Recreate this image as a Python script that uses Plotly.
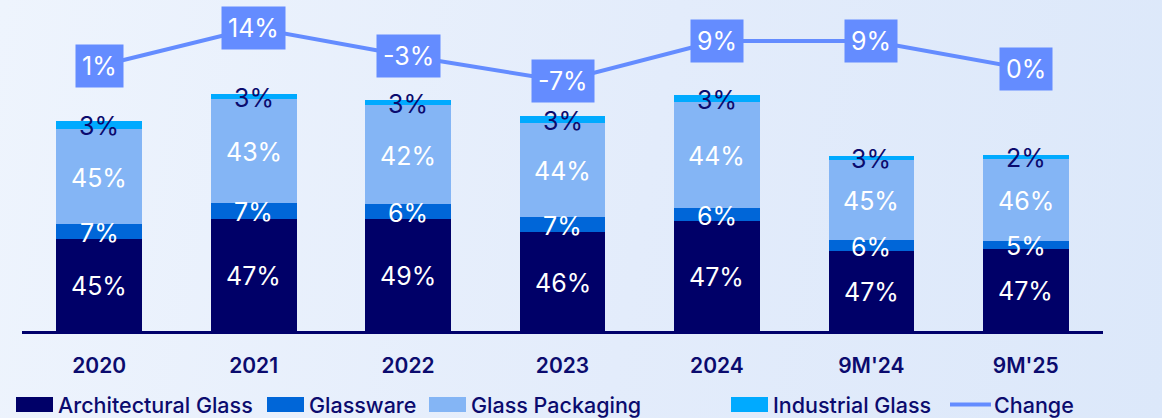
import numpy as np
import plotly.graph_objects as go

# ---- data (index units) ----
periods = ["2020", "2021", "2022", "2023", "2024", "9M'24", "9M'25"]
architectural = [92, 112, 112, 99, 110, 80, 82]
glassware = [15, 16, 15, 15, 13, 11, 8]
packaging = [95, 104, 99, 94, 106, 80, 82]
industrial = [8, 5, 5, 7, 7, 4, 4]

architectural_pct = ["45%", "47%", "49%", "46%", "47%", "47%", "47%"]
glassware_pct = ["7%", "7%", "6%", "7%", "6%", "6%", "5%"]
packaging_pct = ["45%", "43%", "42%", "44%", "44%", "45%", "46%"]
industrial_pct = ["3%", "3%", "3%", "3%", "3%", "3%", "2%"]

change_line = [265, 303, 275, 250, 290, 290, 262]
change_labels = ["1%", "14%", "-3%", "-7%", "9%", "9%", "0%"]

# ---- style ----
NAVY = "#00006B"
TEXT = "#0B0B6E"
C_ARCH = "#000068"
C_GLASS = "#0066D8"
C_PACK = "#84B5F5"
C_IND = "#00AAFF"
C_LINE = "#648CFF"
FONT = "Inter"
LBL = 25

W, H = 1162, 418
L, R, T, B = 22, 59, 10, 87
pw, ph = W - L - R, H - T - B

fig = go.Figure()

series = [
    ("Architectural Glass", architectural, architectural_pct, C_ARCH, "white"),
    ("Glassware", glassware, glassware_pct, C_GLASS, "white"),
    ("Glass Packaging", packaging, packaging_pct, C_PACK, "white"),
    ("Industrial Glass", industrial, industrial_pct, C_IND, TEXT),
]

for name, vals, txt, color, tcolor in series:
    fig.add_trace(go.Bar(
        x=periods, y=vals, name=name,
        marker=dict(color=color, line=dict(width=0)),
        showlegend=False, hoverinfo="skip",
    ))

fig.add_trace(go.Scatter(
    x=periods, y=change_line, mode="lines", name="Change",
    line=dict(color=C_LINE, width=4), showlegend=False, hoverinfo="skip",
    cliponaxis=False,
))

# segment labels drawn above all bars, centred on each segment
base = np.zeros(len(periods))
for name, vals, txt, color, tcolor in series:
    v = np.array(vals, dtype=float)
    for i, (yc, t) in enumerate(zip(base + v / 2, txt)):
        fig.add_annotation(x=i, y=yc, text=t, showarrow=False, yshift=-1,
                           font=dict(family=FONT, size=LBL, color=tcolor))
    base = base + v

for i, (v, t) in enumerate(zip(change_line, change_labels)):
    fig.add_annotation(x=i, y=v, text=t, showarrow=False,
                       font=dict(family=FONT, size=LBL, color="white"),
                       bgcolor=C_LINE, borderpad=6)

# ---- manual legend (paper coordinates from pixel positions) ----
def px(x):
    return (x - L) / pw

def py(y):
    return (H - B - y) / ph

legend_items = [
    ("Architectural Glass", C_ARCH, 16, "rect"),
    ("Glassware", C_GLASS, 267, "rect"),
    ("Glass Packaging", C_PACK, 429, "rect"),
    ("Industrial Glass", C_IND, 731, "rect"),
    ("Change", C_LINE, 949, "line"),
]
ly = 404.5
for name, color, x0, kind in legend_items:
    if kind == "rect":
        fig.add_shape(type="rect", xref="paper", yref="paper",
                      x0=px(x0), x1=px(x0 + 37), y0=py(ly + 7.5), y1=py(ly - 7.5),
                      fillcolor=color, line=dict(width=0))
    else:
        fig.add_shape(type="line", xref="paper", yref="paper",
                      x0=px(x0 + 1), x1=px(x0 + 42), y0=py(ly), y1=py(ly),
                      line=dict(color=color, width=4))
    fig.add_annotation(xref="paper", yref="paper", x=px(x0 + 40 if kind == "rect" else x0 + 43),
                       y=py(ly), xanchor="left", yanchor="middle", showarrow=False,
                       text=name, font=dict(family=FONT, size=21.5, color=TEXT, weight=500))

fig.update_layout(
    width=W, height=H, barmode="stack", bargap=0.445,
    margin=dict(l=L, r=R, t=T, b=B),
    paper_bgcolor="rgba(0,0,0,0)", plot_bgcolor="rgba(0,0,0,0)",
    showlegend=False,
    xaxis=dict(type="category", showline=True, linecolor=NAVY, linewidth=3,
               showgrid=False, zeroline=False, ticks="", ticklabelstandoff=14,
               tickfont=dict(family=FONT, size=21, color=TEXT, weight=600),
               range=[-0.5, 6.5]),
    yaxis=dict(range=[0, ph], visible=False, showgrid=False, zeroline=False),
)

post = ("document.body.style.margin='0';"
        "document.body.style.overflow='hidden';"
        "document.documentElement.style.background="
        "'linear-gradient(100deg, #EEF4FD 0%, #E3ECFB 55%, #DCE8FA 100%)';"
        "document.body.style.background='transparent';")

fig.write_html("out.html", post_script=post, config={"displayModeBar": False})
